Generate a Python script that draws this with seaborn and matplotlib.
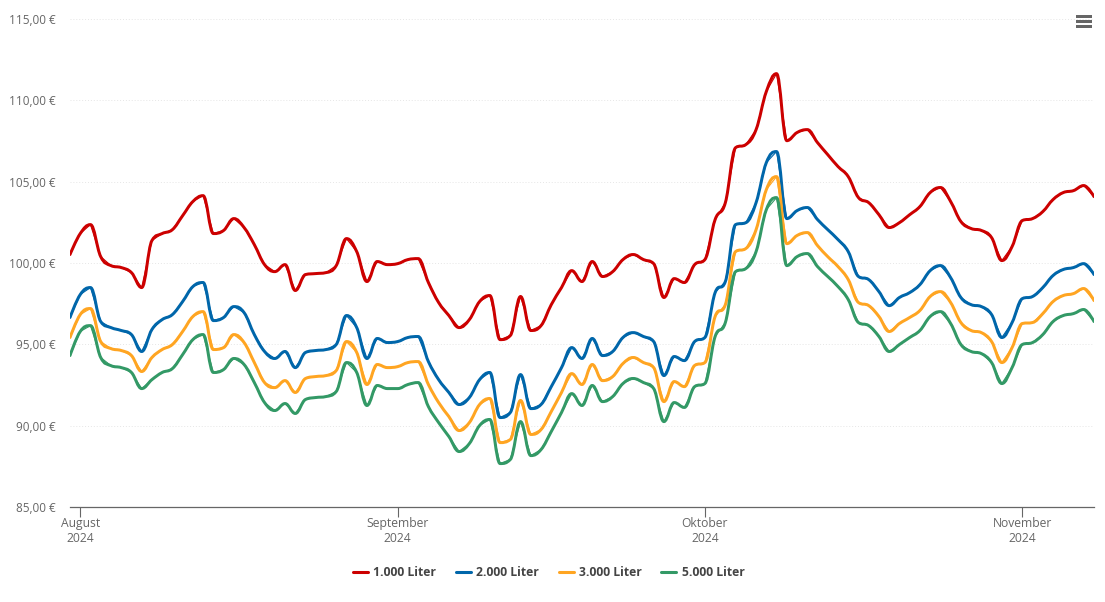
import matplotlib
matplotlib.use("Agg")
import matplotlib.pyplot as plt
from matplotlib.dates import date2num
from matplotlib.lines import Line2D
from matplotlib.patches import PathPatch, Rectangle
from matplotlib.path import Path
import pandas as pd
import seaborn as sns

start_date = "2024-07-31"
liter_1000 = [100.52,101.81,102.36,100.39,99.84,99.72,99.41,98.49,101.38,101.81,102.05,102.91,103.78,104.14,101.81,102.0,102.73,102.18,101.13,99.90,99.47,99.90,98.31,99.29,99.35,99.41,99.84,101.50,100.70,98.86,100.09,99.90,99.96,100.21,100.27,98.80,97.57,96.77,96.03,96.52,97.63,98.0,95.29,95.54,97.94,95.85,96.15,97.44,98.49,99.53,98.86,100.09,99.17,99.47,100.21,100.52,100.21,99.96,97.88,99.04,98.80,99.90,100.21,102.67,103.71,107.09,107.28,108.20,110.54,111.64,107.52,108.02,108.20,107.40,106.66,105.93,105.31,104.02,103.71,102.97,102.18,102.48,102.97,103.47,104.33,104.64,103.78,102.55,102.12,102.0,101.56,100.15,101.01,102.61,102.73,103.16,103.90,104.33,104.45,104.76,104.08]
liter_2000 = [96.65,98.06,98.49,96.40,96.03,95.85,95.60,94.56,95.91,96.52,96.83,97.63,98.55,98.80,96.46,96.65,97.32,96.95,95.60,94.56,94.13,94.56,93.57,94.50,94.62,94.68,94.99,96.77,96.03,94.13,95.36,95.11,95.17,95.42,95.48,93.94,92.83,92.04,91.30,91.73,92.83,93.27,90.50,90.81,93.14,91.05,91.30,92.40,93.57,94.80,94.13,95.36,94.31,94.56,95.42,95.72,95.48,95.17,93.08,94.25,94.0,95.17,95.42,98.18,98.86,102.36,102.48,103.71,106.17,106.85,102.73,103.22,103.41,102.67,102.05,101.44,100.70,99.17,98.98,98.24,97.38,97.88,98.18,98.67,99.53,99.84,99.10,97.88,97.44,97.32,96.83,95.42,96.34,97.81,97.94,98.49,99.23,99.60,99.72,99.96,99.29]
liter_3000 = [95.42,96.83,97.20,95.17,94.74,94.62,94.31,93.33,94.19,94.68,94.99,95.79,96.71,97.01,94.68,94.80,95.60,95.11,93.88,92.65,92.34,92.77,92.04,92.90,93.02,93.08,93.39,95.17,94.50,92.53,93.76,93.57,93.63,93.88,93.94,92.53,91.42,90.56,89.70,90.19,91.30,91.67,88.96,89.15,91.55,89.46,89.76,90.87,92.04,93.20,92.53,93.76,92.77,93.02,93.82,94.19,93.88,93.57,91.48,92.71,92.40,93.70,93.88,96.71,97.44,100.70,100.89,102.05,104.51,105.31,101.19,101.69,101.87,101.07,100.39,99.78,98.98,97.57,97.38,96.71,95.79,96.28,96.65,97.08,97.94,98.24,97.57,96.34,95.85,95.72,95.17,93.88,94.80,96.28,96.34,96.89,97.63,98.0,98.12,98.43,97.69]
liter_5000 = [94.31,95.79,96.15,94.19,93.69,93.57,93.27,92.28,92.83,93.27,93.51,94.37,95.29,95.60,93.27,93.45,94.13,93.76,92.65,91.42,90.93,91.36,90.75,91.61,91.73,91.79,92.10,93.88,93.27,91.24,92.47,92.28,92.28,92.53,92.65,91.17,90.19,89.33,88.41,88.90,90.01,90.38,87.67,87.92,90.25,88.16,88.53,89.64,90.81,91.97,91.24,92.47,91.48,91.79,92.59,92.90,92.65,92.28,90.25,91.42,91.12,92.40,92.59,95.48,96.34,99.47,99.66,100.70,103.28,104.02,99.84,100.39,100.58,99.78,99.17,98.55,97.75,96.34,96.15,95.48,94.56,94.99,95.42,95.85,96.71,97.01,96.28,94.99,94.56,94.43,93.88,92.59,93.57,94.99,95.11,95.60,96.40,96.77,96.89,97.14,96.40]

series_names = ["1.000 Liter", "2.000 Liter", "3.000 Liter", "5.000 Liter"]
series_colors = ["#CC0000", "#0066AA", "#FFA522", "#339966"]
y_ticks = [85, 90, 95, 100, 105, 110, 115]
month_ticks = ["2024-08-01", "2024-09-01", "2024-10-01", "2024-11-01"]
month_labels = ["August\n2024", "September\n2024", "Oktober\n2024", "November\n2024"]


def spline_path(xs, ys):
    """Bezier spline through the given points only (same construction as a Highcharts spline)."""
    n = len(xs)
    left, right = [None] * n, [None] * n
    for i in range(1, n - 1):
        lx = (1.5 * xs[i] + xs[i - 1]) / 2.5
        ly = (1.5 * ys[i] + ys[i - 1]) / 2.5
        rx = (1.5 * xs[i] + xs[i + 1]) / 2.5
        ry = (1.5 * ys[i] + ys[i + 1]) / 2.5
        corr = (ry - ly) * (rx - xs[i]) / (rx - lx) + ys[i] - ry
        ly += corr
        ry += corr
        if ly > max(ys[i - 1], ys[i]):
            ly = max(ys[i - 1], ys[i])
            ry = 2 * ys[i] - ly
        elif ly < min(ys[i - 1], ys[i]):
            ly = min(ys[i - 1], ys[i])
            ry = 2 * ys[i] - ly
        if ry > max(ys[i + 1], ys[i]):
            ry = max(ys[i + 1], ys[i])
            ly = 2 * ys[i] - ry
        elif ry < min(ys[i + 1], ys[i]):
            ry = min(ys[i + 1], ys[i])
            ly = 2 * ys[i] - ry
        left[i], right[i] = (lx, ly), (rx, ry)
    left[n - 1] = (xs[n - 1], ys[n - 1])
    right[0] = (xs[0], ys[0])
    verts, codes = [(xs[0], ys[0])], [Path.MOVETO]
    for i in range(1, n):
        verts += [right[i - 1], left[i], (xs[i], ys[i])]
        codes += [Path.CURVE4] * 3
    return Path(verts, codes)


sns.set_theme(style="white")
plt.rcParams["font.family"] = ["Open Sans", "DejaVu Sans"]

dates = pd.date_range(start_date, periods=len(liter_1000), freq="D")
frames = [
    pd.DataFrame({"date": dates, "price": vals, "series": name})
    for name, vals in zip(series_names, [liter_1000, liter_2000, liter_3000, liter_5000])
]
df = pd.concat(frames, ignore_index=True)

W, H = 1105, 602
fig = plt.figure(figsize=(W / 100, H / 100), dpi=100, facecolor="white")
ax = fig.add_axes([70 / W, 1 - 507 / H, (1094 - 70) / W, (507 - 19) / H])

# seaborn places each series on the axes; its vertices then carry the curved stroke
sns.lineplot(
    data=df, x="date", y="price", hue="series", hue_order=series_names,
    palette=series_colors, estimator=None, errorbar=None, sort=False,
    linewidth=0.8, ax=ax, zorder=3, legend=False,
)
for line, color in zip(ax.get_lines(), series_colors):
    xy = line.get_xydata()
    ax.add_patch(PathPatch(spline_path(list(xy[:, 0]), list(xy[:, 1])), facecolor="none",
                           edgecolor=color, linewidth=2.16, zorder=3, capstyle="round",
                           joinstyle="round"))

ax.set_xlim(date2num(dates[0]), date2num(dates[-1]))
ax.set_ylim(85, 115)
ax.set_xlabel("")
ax.set_ylabel("")
ax.set_yticks(y_ticks)
ax.set_yticklabels([f"{v},00 €" for v in y_ticks])
ax.set_xticks(date2num(pd.to_datetime(month_ticks)))
ax.set_xticklabels(month_labels, linespacing=1.2)
ax.tick_params(axis="y", length=0, pad=10.5, labelsize=8.5, labelcolor="#666666")
ax.tick_params(axis="x", length=7, width=0.8, color="#666666", pad=0, labelsize=8.7,
               labelcolor="#666666", bottom=True)
ax.grid(axis="y", color="#e6e6e6", linewidth=0.7, linestyle=(0, (1, 2)))
ax.grid(axis="x", visible=False)
ax.set_axisbelow(True)
for side in ["top", "left", "right"]:
    ax.spines[side].set_visible(False)
ax.spines["bottom"].set_color("#666666")
ax.spines["bottom"].set_linewidth(0.9)

handles = [Line2D([], [], color=c, linewidth=2.2, label=n) for c, n in zip(series_colors, series_names)]
leg = ax.legend(
    handles=handles, loc="center", bbox_to_anchor=(548.8 / W, 1 - 572.5 / H),
    bbox_transform=fig.transFigure, ncol=4, frameon=False, fontsize=8.7, handlelength=1.25,
    handletextpad=0.45, columnspacing=1.6, borderpad=0,
)
for text in leg.get_texts():
    text.set_color("#444444")
    text.set_fontweight("bold")

for top in [15, 20, 25]:
    fig.add_artist(Rectangle((1075.5 / W, 1 - (top + 2.7) / H), 16.5 / W, 2.7 / H,
                             transform=fig.transFigure, facecolor="#666666", edgecolor="none"))

fig.savefig("out.png", dpi=100, facecolor="white")
